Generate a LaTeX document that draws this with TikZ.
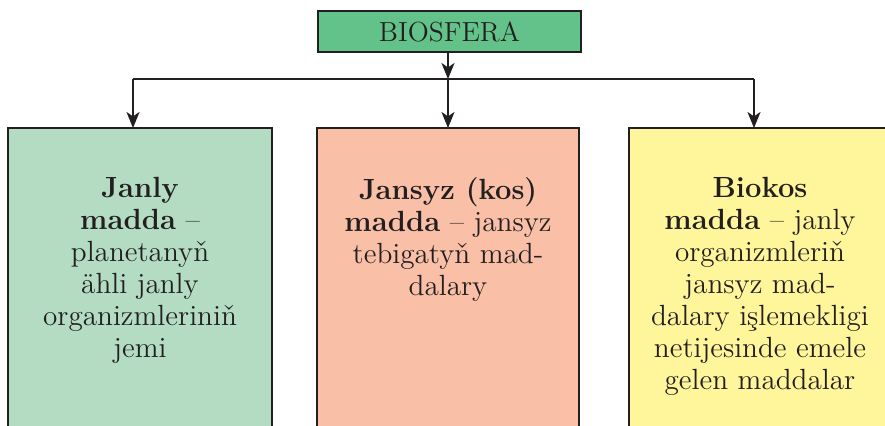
\documentclass[tikz,border=0pt]{standalone}
\usepackage{fontspec}
\usetikzlibrary{arrows.meta}
\definecolor{inkc}{HTML}{231F20}
\definecolor{topg}{HTML}{63C18A}
\definecolor{leftg}{HTML}{B3DCC3}
\definecolor{midc}{HTML}{F9BFA7}
\definecolor{rightc}{HTML}{FFF59B}
\tikzset{
  boxst/.style={draw=inkc, line width=1.2pt},
  txt/.style={text=inkc, align=center, inner sep=0pt, font=\fontsize{14.6}{16}\selectfont},
  arr/.style={draw=inkc, line width=1pt, -{Stealth[length=8pt,width=6.5pt,inset=2.2pt]}},
  ln/.style={draw=inkc, line width=1pt}
}
\begin{document}
\begin{tikzpicture}[x=0.5pt,y=-0.5pt]
\useasboundingbox (0,0) rectangle (885,425);
% top box
\node[boxst, fill=topg, minimum width=131.5pt, minimum height=20.5pt, inner sep=0pt, text=inkc, font=\fontsize{13.8}{15}\selectfont] (top) at (449.5,31.5) {BIOSFERA};
% lower boxes
\path[boxst, fill=leftg] (8,128) rectangle (272,445);
\path[boxst, fill=midc] (317,128) rectangle (579,445);
\path[boxst, fill=rightc] (629,128) rectangle (893,445);
\coordinate (lt) at (133,128);
\coordinate (mt) at (448,128);
\coordinate (rt) at (754,128);
\coordinate (hl) at (133,79);
\coordinate (hm) at (448,79);
\coordinate (hr) at (754,79);
\draw[ln] (hl) -- (hr);
\draw[arr] (top.south -| hm) -- (hm);
\draw[arr] (hl) -- (lt);
\draw[arr] (hm) -- (mt);
\draw[arr] (hr) -- (rt);
% texts
\node[txt, anchor=north] (lx) at (140,177) {\textbf{Janly}\\\textbf{madda} --\\planetanyň\\ähli janly\\organizmleriniň\\jemi};
\node[txt, anchor=north] (mx) at (448,177) {\textbf{Jansyz (kos)}\\\textbf{madda} -- jansyz\\tebigatyň mad-\\dalary};
\node[txt, anchor=north] (rx) at (760,177) {\textbf{Biokos}\\\textbf{madda} -- janly\\organizmleriň\\jansyz mad-\\dalary işlemekligi\\netijesinde emele\\gelen maddalar};
\end{tikzpicture}
\end{document}
